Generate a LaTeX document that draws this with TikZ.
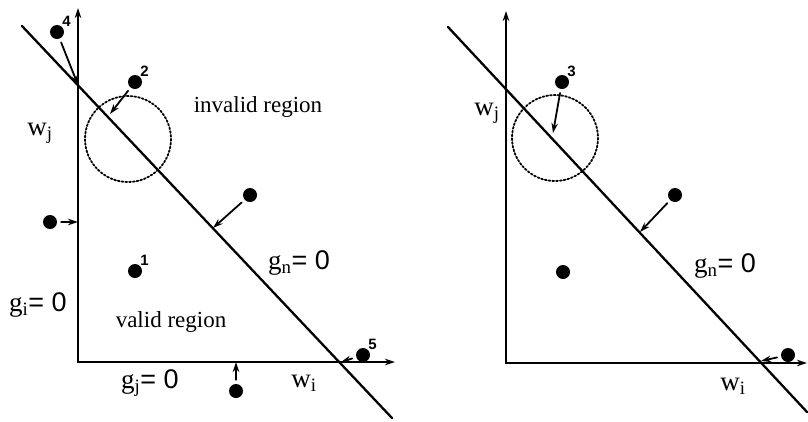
\documentclass[tikz,border=0pt]{standalone}
\usepackage{fontspec}
\setmainfont{Liberation Serif}
\newfontfamily\labsans{Liberation Sans}
\usetikzlibrary{arrows.meta}

\begin{document}
\begin{tikzpicture}[x=1pt,y=-1pt,>={Stealth[length=10pt,width=6.5pt]},line cap=round,
  axis/.style={->,line width=2.3pt},
  gline/.style={line width=2.3pt},
  ring/.style={dotted,line width=1.8pt},
  push/.style={->,line width=1.8pt,shorten <=4pt},
  dot/.style={circle,fill,inner sep=0pt,minimum size=14pt},
  numlbl/.style={anchor=south west,inner sep=0pt,font=\labsans\bfseries\fontsize{15}{16}\selectfont},
  txt/.style={font=\fontsize{23}{26}\selectfont},
  eqlbl/.style={font=\fontsize{27}{30}\selectfont}]
\useasboundingbox (0,0) rectangle (808,421);
% left panel
\coordinate (o1) at (78,362);
\coordinate (yt1) at (78,8);
\coordinate (xt1) at (395,362);
\coordinate (ls1) at (22,26);
\coordinate (le1) at (392,418);
\draw[axis] (o1) -- (yt1);
\draw[axis] (o1) -- (xt1);
\draw[gline] (ls1) -- (le1);
\draw[ring] (128,139) circle (43);
\coordinate (q4) at (78,85);
\coordinate (q2) at (110,114);
\coordinate (q6) at (213,228);
\coordinate (q7) at (78,222);
\coordinate (q8) at (236,362);
\coordinate (q5) at (341,362);
\node[dot] (p4) at (57,32) {};
\node[dot] (p2) at (135,82) {};
\node[dot] (p6) at (250,195) {};
\node[dot] (p7) at (50,222) {};
\node[dot] (p1) at (135,271) {};
\node[dot] (p8) at (236,391) {};
\node[dot] (p5) at (363,355) {};
\draw[push] (p4) -- (q4);
\draw[push] (p2) -- (q2);
\draw[push] (p6) -- (q6);
\draw[push] (p7) -- (q7);
\draw[push] (p8) -- (q8);
\draw[push] (p5) -- (q5);
\node[numlbl] (n4) at (p4.north east) {4};
\node[numlbl] (n2) at (p2.north east) {2};
\node[numlbl] (n1) at (p1.north east) {1};
\node[numlbl] (n5) at (p5.north east) {5};
\node[txt] (inv) at (258,107) {invalid region};
\node[txt] (val) at (171,322) {valid region};
\node[eqlbl] (wj1) at (40,133) {w$_{\mathrm{j}}$};
\node[eqlbl] (wi1) at (304,383) {w$_{\mathrm{i}}$};
\node[eqlbl] (gn1) at (299,263) {g$_{\mathrm{n}}${\labsans= 0}};
\node[eqlbl] (gi1) at (38,305) {g$_{\mathrm{i}}${\labsans= 0}};
\node[eqlbl] (gj1) at (150,383) {g$_{\mathrm{j}}${\labsans= 0}};
% right panel
\coordinate (o2) at (506,363);
\coordinate (yt2) at (506,11);
\coordinate (xt2) at (807,363);
\coordinate (ls2) at (448,27);
\coordinate (le2) at (807,412);
\draw[axis] (o2) -- (yt2);
\draw[axis] (o2) -- (xt2);
\draw[gline] (ls2) -- (le2);
\draw[ring] (555,138) circle (43);
\coordinate (q3) at (553,133);
\coordinate (q9) at (640,232);
\coordinate (q10) at (761,361);
\node[dot] (p3) at (562,82) {};
\node[dot] (p9) at (675,195) {};
\node[dot] (p11) at (563,272) {};
\node[dot] (p10) at (788,355) {};
\draw[push] (p3) -- (q3);
\draw[push] (p9) -- (q9);
\draw[push] (p10) -- (q10);
\node[numlbl] (n3) at (p3.north east) {3};
\node[eqlbl] (wj2) at (487,113) {w$_{\mathrm{j}}$};
\node[eqlbl] (wi2) at (733,386) {w$_{\mathrm{i}}$};
\node[eqlbl] (gn2) at (725,266) {g$_{\mathrm{n}}${\labsans= 0}};
\end{tikzpicture}
\end{document}
